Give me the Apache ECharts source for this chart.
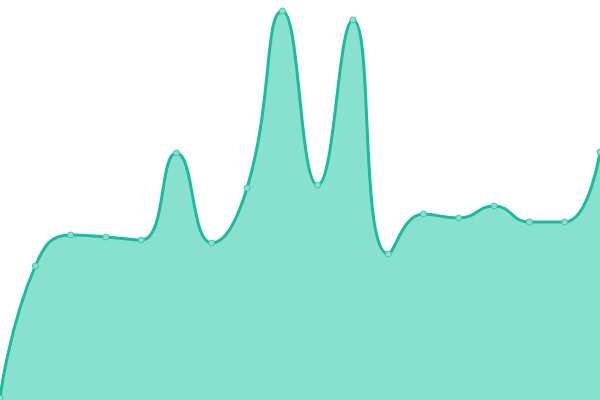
<!DOCTYPE html>
<html lang="en">
<head>
    <meta charset="UTF-8">
    <title>Area</title>
    <script src="https://cdn.jsdelivr.net/npm/echarts@6/dist/echarts.min.js"></script>
    <style>
        html, body { margin: 0; padding: 0; background: #fff; }
    </style>
</head>
<body>
<div id="main" style="width: 600px;height:400px;"></div>
<script type="text/javascript">
    var categories = ['1', '2', '3', '4', '5', '6', '7', '8', '9', '10', '11', '12', '13', '14', '15', '16', '17', '18'];
    var values = [2, 134, 165, 163, 160, 247, 157, 212, 389, 215, 380, 146, 186, 182, 194, 178, 178, 248];

    var mychart = echarts.init(document.getElementById('main'));
    var option = {
        animation: false,
        grid: { left: 0, right: 0, top: 0, bottom: 0 },
        xAxis: {
            type: 'category',
            boundaryGap: false,
            data: categories,
            show: false
        },
        yAxis: {
            type: 'value',
            min: 0,
            max: 400,
            show: false
        },
        series: [{
            type: 'line',
            data: values,
            smooth: true,
            symbol: 'circle',
            symbolSize: 6,
            showAllSymbol: true,
            lineStyle: { color: '#1abc9c', width: 3 },
            itemStyle: { color: '#88e0cf', borderColor: '#3cc9a9', borderWidth: 1 },
            areaStyle: { color: '#88e0cf', opacity: 1 }
        }]
    };
    mychart.setOption(option);
</script>
</body>
</html>
